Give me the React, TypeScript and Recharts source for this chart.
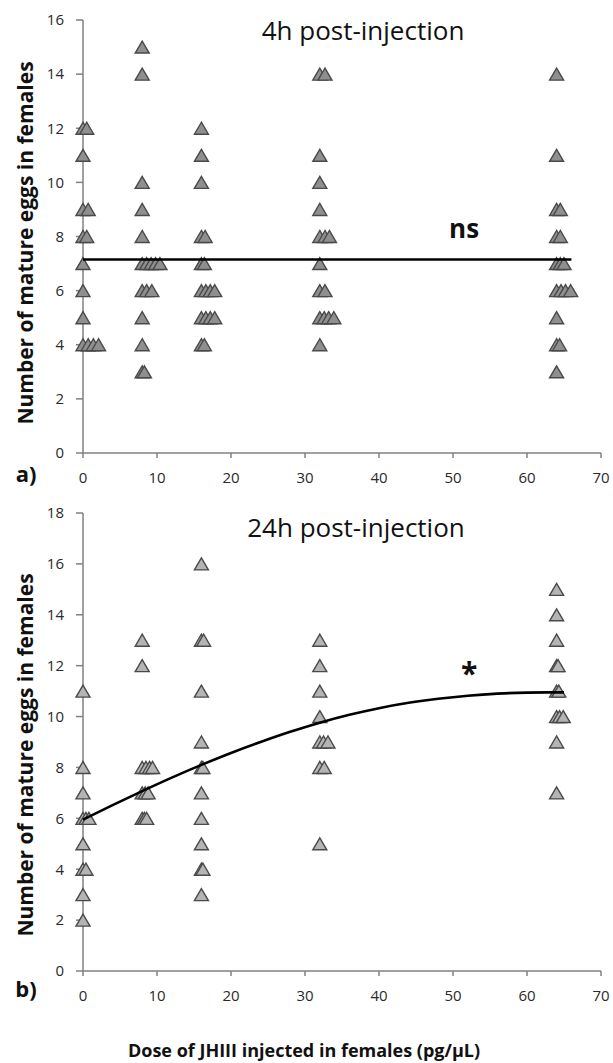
import React from 'react';
import { ScatterChart, Scatter, XAxis, YAxis, ReferenceDot } from 'recharts';

// 4h post-injection: dose (pg/µL, with the small sideways jitter used in the figure) and egg counts
const dose4h = [
  0, 0.5, 0, 0, 0.7, 0, 0.5, 0, 0, 0, 0, 0.7, 1.4, 2.1,
  8, 8, 8, 8, 8, 8, 8.6, 9.2, 9.8, 10.4, 8, 8.6, 9.3, 8, 8, 8, 8.3,
  16, 16, 16, 16, 16.5, 16, 16.4, 16, 16.6, 17.2, 17.8, 16, 16.6, 17.2, 17.8, 16, 16.4,
  32, 32.7, 32, 32, 32, 32, 32.7, 33.3, 32, 32, 32.7, 32, 32.6, 33.2, 33.9, 32,
  64, 64, 64, 64.5, 64, 64.5, 64, 64.5, 65, 64, 64.6, 65.2, 65.9, 64, 64, 64.4, 64,
];
const eggs4h = [
  12, 12, 11, 9, 9, 8, 8, 7, 6, 5, 4, 4, 4, 4,
  15, 14, 10, 9, 8, 7, 7, 7, 7, 7, 6, 6, 6, 5, 4, 3, 3,
  12, 11, 10, 8, 8, 7, 7, 6, 6, 6, 6, 5, 5, 5, 5, 4, 4,
  14, 14, 11, 10, 9, 8, 8, 8, 7, 6, 6, 5, 5, 5, 5, 4,
  14, 11, 9, 9, 8, 8, 7, 7, 7, 6, 6, 6, 6, 5, 4, 4, 3,
];
// flat trend line (ns)
const fitDose4h = [0, 66];
const fitEggs4h = [7.15, 7.15];

// 24h post-injection
const dose24h = [
  0, 0, 0, 0, 0.4, 0.8, 0, 0, 0.4, 0, 0,
  8, 8, 8, 8.5, 9, 9.4, 8, 8.4, 8.8, 8, 8.3, 8.6,
  16, 16, 16.3, 16, 16, 16, 16.2, 16, 16, 16, 16, 16.2, 16,
  32, 32, 32, 32, 32, 32.5, 33.1, 32, 32.6, 32,
  64, 64, 64, 64, 64.2, 64, 64.3, 64, 64.4, 64.9, 64, 64,
];
const eggs24h = [
  11, 8, 7, 6, 6, 6, 5, 4, 4, 3, 2,
  13, 12, 8, 8, 8, 8, 7, 7, 7, 6, 6, 6,
  16, 13, 13, 11, 9, 8, 8, 7, 6, 5, 4, 4, 3,
  13, 12, 11, 10, 9, 9, 9, 8, 8, 5,
  15, 14, 13, 12, 12, 11, 11, 10, 10, 10, 9, 7,
];
// fitted curve (*)
const fitDose24h = [0, 4, 8, 12, 16, 20, 24, 28, 32, 36, 40, 44, 48, 52, 56, 60, 64, 65];
const fitEggs24h = [5.95, 6.52, 7.07, 7.6, 8.1, 8.57, 9.0, 9.4, 9.76, 10.07, 10.33, 10.54, 10.7, 10.82, 10.9, 10.94, 10.95, 10.95];

const xTicks = [0, 10, 20, 30, 40, 50, 60, 70];
const yTicks4h = [0, 2, 4, 6, 8, 10, 12, 14, 16];
const yTicks24h = [0, 2, 4, 6, 8, 10, 12, 14, 16, 18];

const toPoints = (xs: number[], ys: number[]) => xs.map((x, i) => ({ x, y: ys[i] }));

const FONT = '"Open Sans", "DejaVu Sans", sans-serif';
const tickStyle = { fontSize: 15, fill: '#2a2a2a', fontFamily: FONT };
const axisColor = '#808080';

const makeTriangle = (fill: string, stroke: string) => (props: any) => {
  const { cx, cy } = props;
  if (cx == null || cy == null) return <g />;
  const w = 7;
  const h = 6;
  return (
    <polygon
      points={`${cx},${cy - h} ${cx - w},${cy + h} ${cx + w},${cy + h}`}
      fill={fill}
      stroke={stroke}
      strokeWidth={1.4}
    />
  );
};

const noDot = () => <g />;

const abs = (left: number, top: number, style: React.CSSProperties = {}): React.CSSProperties => ({
  position: 'absolute',
  left,
  top,
  transform: 'translate(-50%, -50%)',
  whiteSpace: 'nowrap',
  fontFamily: FONT,
  color: '#111',
  lineHeight: 1,
  ...style,
});

interface PanelProps {
  points: { x: number; y: number }[];
  fit: { x: number; y: number }[];
  yMax: number;
  yTicks: number[];
  height: number;
  margin: { top: number; right: number; bottom: number; left: number };
  fill: string;
  mark: { x: number; y: number; text: string; size: number };
}

const Panel: React.FC<PanelProps> = ({ points, fit, yMax, yTicks, height, margin, fill, mark }) => (
  <ScatterChart width={613} height={height} margin={margin}>
    <XAxis
      type="number"
      dataKey="x"
      domain={[0, 70]}
      ticks={xTicks}
      axisLine={{ stroke: axisColor, strokeWidth: 1.5 }}
      tickLine={{ stroke: axisColor, strokeWidth: 1.5 }}
      tickSize={5}
      tickMargin={14}
      tick={tickStyle}
      height={30}
    />
    <YAxis
      type="number"
      dataKey="y"
      domain={[0, yMax]}
      ticks={yTicks}
      axisLine={{ stroke: axisColor, strokeWidth: 1.5 }}
      tickLine={{ stroke: axisColor, strokeWidth: 1.5 }}
      tickSize={7}
      tickMargin={12}
      tick={tickStyle}
      width={83}
    />
    <Scatter data={points} shape={makeTriangle(fill, '#4a4a4a')} isAnimationActive={false} />
    <Scatter
      data={fit}
      shape={noDot}
      line={{ stroke: '#000', strokeWidth: 2.6 }}
      lineJointType="monotoneX"
      isAnimationActive={false}
    />
    <ReferenceDot
      x={mark.x}
      y={mark.y}
      r={0}
      fill="none"
      stroke="none"
      label={{ value: mark.text, position: 'center', fontSize: mark.size, fontWeight: 700, fill: '#111', fontFamily: FONT }}
    />
  </ScatterChart>
);

export default function App() {
  return (
    <div style={{ position: 'absolute', left: 0, top: 0, width: 613, height: 1063, background: '#fff' }}>
      <div style={{ position: 'absolute', left: 0, top: 0 }}>
        <Panel
          points={toPoints(dose4h, eggs4h)}
          fit={toPoints(fitDose4h, fitEggs4h)}
          yMax={16}
          yTicks={yTicks4h}
          height={500}
          margin={{ top: 20, right: 12, bottom: 17, left: 0 }}
          fill="#8f8f8f"
          mark={{ x: 51.5, y: 8.28, text: 'ns', size: 26 }}
        />
      </div>
      <div style={{ position: 'absolute', left: 0, top: 500 }}>
        <Panel
          points={toPoints(dose24h, eggs24h)}
          fit={toPoints(fitDose24h, fitEggs24h)}
          yMax={18}
          yTicks={yTicks24h}
          height={563}
          margin={{ top: 13, right: 12, bottom: 62, left: 0 }}
          fill="#b4b4b4"
          mark={{ x: 52.2, y: 11.7, text: '*', size: 30 }}
        />
      </div>

      <div style={abs(363, 30, { fontSize: 26, fontWeight: 400 })}>4h post-injection</div>
      <div style={abs(356, 527, { fontSize: 26, fontWeight: 400 })}>24h post-injection</div>
      <div style={abs(26, 473, { fontSize: 22, fontWeight: 700 })}>a)</div>
      <div style={abs(26, 988, { fontSize: 22, fontWeight: 700 })}>b)</div>
      <div style={abs(25, 243, { fontSize: 21, fontWeight: 700, transform: 'translate(-50%, -50%) rotate(-90deg)' })}>
        Number of mature eggs in females
      </div>
      <div style={abs(25, 755, { fontSize: 21, fontWeight: 700, transform: 'translate(-50%, -50%) rotate(-90deg)' })}>
        Number of mature eggs in females
      </div>
      <div style={abs(304, 1050, { fontSize: 18, fontWeight: 700 })}>Dose of JHIII injected in females (pg/µL)</div>
    </div>
  );
}
